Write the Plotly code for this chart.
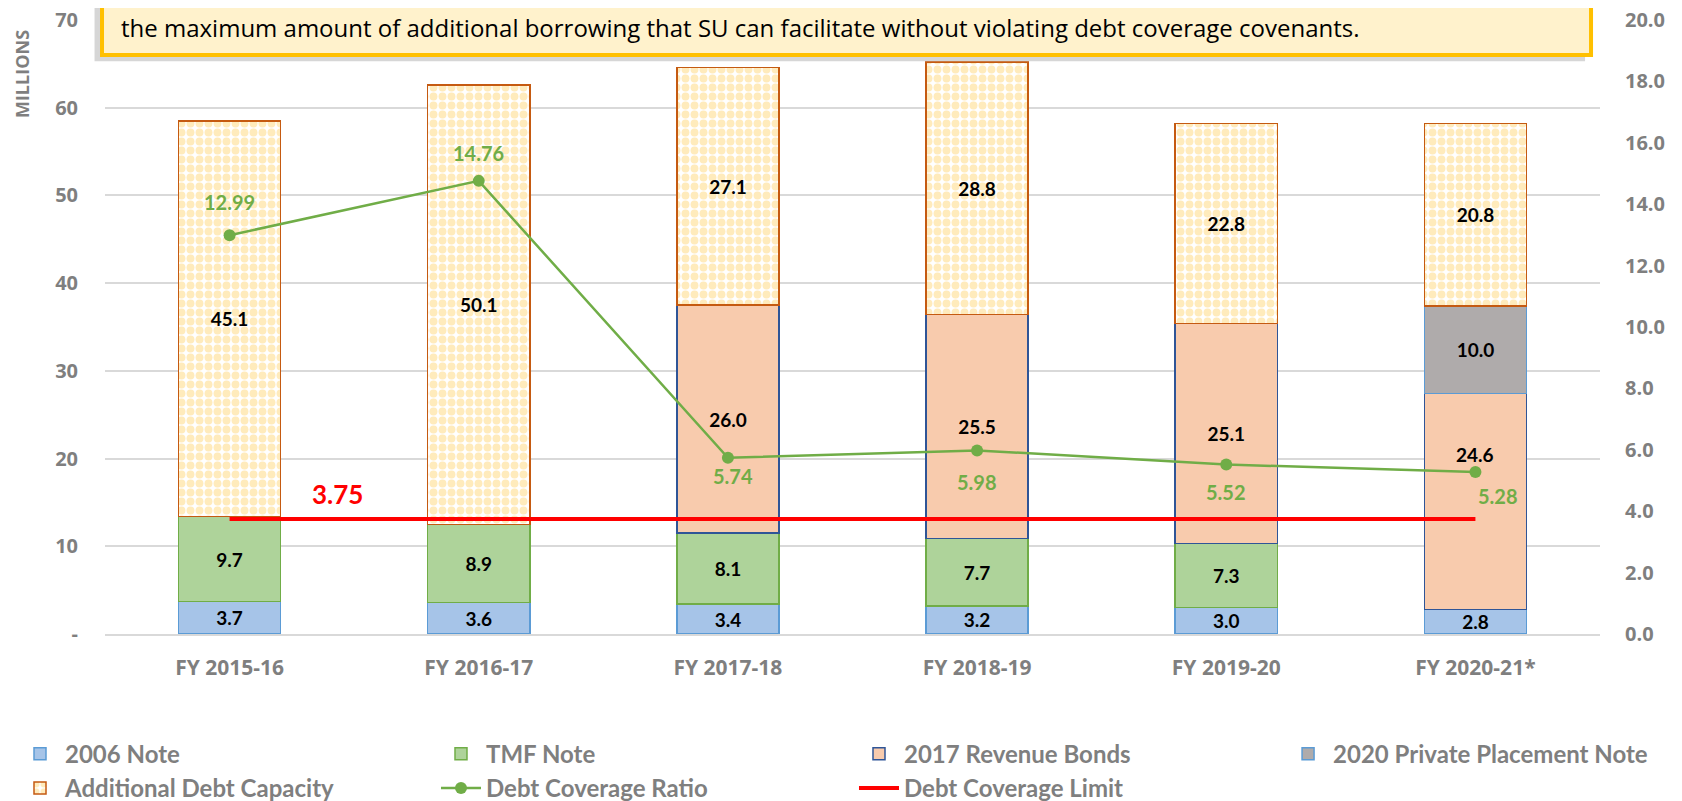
import plotly.graph_objects as go

# data
years = ["FY 2015-16", "FY 2016-17", "FY 2017-18", "FY 2018-19", "FY 2019-20", "FY 2020-21*"]
note_2006 = [3.7, 3.6, 3.4, 3.2, 3.0, 2.8]
tmf_note = [9.7, 8.9, 8.1, 7.7, 7.3, None]
rev_bonds_2017 = [None, None, 26.0, 25.5, 25.1, 24.6]
private_2020 = [None, None, None, None, None, 10.0]
extra_capacity = [45.1, 50.1, 27.1, 28.8, 22.8, 20.8]
coverage_ratio = [12.99, 14.76, 5.74, 5.98, 5.52, 5.28]
coverage_limit = [3.75, 3.75, 3.75, 3.75, 3.75, 3.75]

left_ticks = [0, 10, 20, 30, 40, 50, 60, 70]
left_tick_text = ["-", "10", "20", "30", "40", "50", "60", "70"]

GREY = "#7F7F7F"
GREEN = "#70AD47"
LABEL_FAMILY = "Lato, Open Sans, sans-serif"


def lbl(vals):
    return ["" if v is None else f"{v:.1f}" for v in vals]


fig = go.Figure()

bar_font = dict(family=LABEL_FAMILY, size=19, color="black", weight="bold")


def add_bar(name, vals, fill, edge, legend, pattern=None, text=None):
    marker = dict(color=fill, line=dict(color=edge, width=1.5))
    if pattern:
        marker["pattern"] = pattern
    fig.add_trace(go.Bar(
        x=years, y=vals, name=name, marker=marker, legend=legend,
        text=text if text is not None else lbl(vals),
        textposition="inside", insidetextanchor="middle",
        textangle=0, constraintext="none", textfont=bar_font,
        hoverinfo="skip",
    ))


add_bar("2006 Note", note_2006, "#A6C4E8", "#5B9BD5", "legend")
add_bar("TMF Note", tmf_note, "#AED39A", GREEN, "legend2")
# last label of the revenue bonds is lifted above the ratio line, as in the original
rev_text = lbl(rev_bonds_2017)
rev_text[-1] = ""
add_bar("2017 Revenue Bonds", rev_bonds_2017, "#F8CBAD", "#2F5597", "legend3", text=rev_text)
add_bar("2020 Private Placement Note", private_2020, "#AFABAB", "#5B9BD5", "legend4")
add_bar("Additional Debt Capacity", extra_capacity, "white", "#C55A11", "legend",
        pattern=dict(shape=".", fillmode="replace", bgcolor="white",
                     fgcolor="#FFEBBC", size=9, solidity=0.6))

fig.add_annotation(
    x=years[-1], y=note_2006[-1] + rev_bonds_2017[-1] / 2, yshift=47,
    text=f"{rev_bonds_2017[-1]:.1f}", showarrow=False, font=bar_font,
)

fig.add_trace(go.Scatter(
    x=years, y=coverage_ratio, name="Debt Coverage Ratio", yaxis="y2", legend="legend2",
    mode="lines+markers", line=dict(color=GREEN, width=2.5),
    marker=dict(color=GREEN, size=12), hoverinfo="skip",
))

ratio_font = dict(family=LABEL_FAMILY, size=20, color=GREEN, weight="bold")
ratio_dy = [33, 28, -18, -32, -27, -24]
ratio_dx = [0, 0, 5, 0, 0, 23]
for yr, v, dy, dx in zip(years, coverage_ratio, ratio_dy, ratio_dx):
    fig.add_annotation(x=yr, y=v, yref="y2", yshift=dy, xshift=dx,
                       text=f"{v:.2f}", showarrow=False, font=ratio_font)

fig.add_trace(go.Scatter(
    x=years, y=coverage_limit, name="Debt Coverage Limit", yaxis="y2", legend="legend3",
    mode="lines", line=dict(color="#FF0000", width=4), hoverinfo="skip",
))

fig.add_annotation(
    x=years[0], y=coverage_limit[0], yref="y2", xshift=108, yshift=25,
    text=f"{coverage_limit[0]:.2f}", showarrow=False,
    font=dict(family=LABEL_FAMILY, size=26, color="#FF0000", weight="bold"),
)

# note box at the top (cut off by the chart edge), with a soft shadow
fig.add_shape(type="rect", xref="paper", yref="paper", x0=-0.007, x1=0.99, y0=0.933, y1=1.2,
              fillcolor="#D6D6D6", line=dict(width=0), layer="above")
fig.add_shape(type="rect", xref="paper", yref="paper", x0=-0.002, x1=0.994, y0=0.943, y1=1.2,
              fillcolor="#FFF2CC", line=dict(color="#FFC000", width=4), layer="above")
fig.add_annotation(
    xref="paper", yref="paper", x=0.0095, y=0.988, xanchor="left", yanchor="middle",
    text="the maximum amount of additional borrowing that SU can facilitate without violating debt coverage covenants.",
    showarrow=False, font=dict(family="Open Sans, sans-serif", size=24, color="black"),
)

fig.add_annotation(
    xref="paper", yref="paper", x=-0.0555, y=0.912, xanchor="center", yanchor="middle",
    textangle=-90, text="MILLIONS", showarrow=False,
    font=dict(family="Open Sans, sans-serif", size=18, color=GREY, weight="bold"),
)

y_font = dict(family="Open Sans, sans-serif", size=20, color=GREY, weight="bold")
x_font = dict(family="Open Sans, sans-serif", size=21, color=GREY, weight="bold")
legend_font = dict(family=LABEL_FAMILY, size=24, color=GREY, weight="bold")


def legend_col(x):
    return dict(orientation="v", x=x, y=-0.159, xanchor="left", yanchor="top",
                itemwidth=40, traceorder="normal", font=legend_font,
                bgcolor="rgba(0,0,0,0)")


# the page body has an 8px margin, so the figure is made 8px smaller each way
fig.update_layout(
    width=1674, height=793,
    margin=dict(l=97, r=82, t=12, b=167, autoexpand=False),
    barmode="stack", bargap=0.59,
    plot_bgcolor="white", paper_bgcolor="white",
    xaxis=dict(tickfont=x_font, showgrid=False, showline=True,
               linecolor="#D9D9D9", linewidth=1.5, ticks="", ticklabelstandoff=14),
    yaxis=dict(range=[0, 70], tickvals=left_ticks, ticktext=left_tick_text,
               tickfont=y_font, showgrid=True, gridcolor="#D9D9D9", gridwidth=1.5,
               zeroline=False, ticklabelstandoff=26, ticklabeloverflow="allow"),
    yaxis2=dict(range=[0, 20], overlaying="y", side="right", dtick=2, tickformat=".1f",
                tickfont=y_font, showgrid=False, zeroline=False, ticklabelstandoff=24,
                ticklabeloverflow="allow"),
    legend=legend_col(-0.0602),
    legend2=legend_col(0.2214),
    legend3=legend_col(0.501),
    legend4=legend_col(0.788),
    showlegend=True,
)

fig.write_html("out.html")
